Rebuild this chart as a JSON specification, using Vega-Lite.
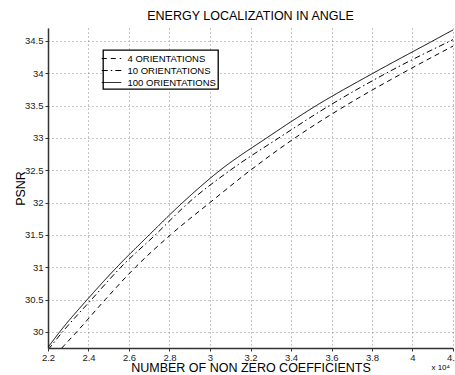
{
  "$schema": "https://vega.github.io/schema/vega-lite/v6.json",
  "width": 405,
  "height": 320,
  "autosize": {"type": "none"},
  "padding": {"left": 48, "top": 28, "right": 2, "bottom": 27},
  "background": "white",
  "title": {"text": "ENERGY LOCALIZATION IN ANGLE", "font": "Liberation Sans", "fontSize": 12.5, "fontWeight": "normal", "color": "black", "offset": 6},
  "config": {
    "view": {"stroke": null},
    "font": "Liberation Sans",
    "axis": {
      "labelFont": "Liberation Sans", "labelFontSize": 9.5, "labelColor": "#222", "labelOverlap": false, "format": "~g",
      "titleFont": "Liberation Sans", "titleFontSize": 12.5, "titleFontWeight": "normal", "titleColor": "black",
      "domainColor": "#333", "domainWidth": 1.5,
      "grid": true, "gridColor": "#888", "gridDash": [1, 3], "gridWidth": 1,
      "ticks": true, "tickSize": 3, "tickColor": "#333"
    }
  },
  "data": {
    "values": [
      {"n": 2.200, "psnr": 29.76, "s": "100 ORIENTATIONS"},
      {"n": 2.258, "psnr": 30.00, "s": "100 ORIENTATIONS"},
      {"n": 2.394, "psnr": 30.50, "s": "100 ORIENTATIONS"},
      {"n": 2.540, "psnr": 31.00, "s": "100 ORIENTATIONS"},
      {"n": 2.700, "psnr": 31.50, "s": "100 ORIENTATIONS"},
      {"n": 2.865, "psnr": 32.00, "s": "100 ORIENTATIONS"},
      {"n": 3.050, "psnr": 32.50, "s": "100 ORIENTATIONS"},
      {"n": 3.280, "psnr": 33.00, "s": "100 ORIENTATIONS"},
      {"n": 3.525, "psnr": 33.50, "s": "100 ORIENTATIONS"},
      {"n": 3.805, "psnr": 34.00, "s": "100 ORIENTATIONS"},
      {"n": 4.100, "psnr": 34.50, "s": "100 ORIENTATIONS"},
      {"n": 4.200, "psnr": 34.67, "s": "100 ORIENTATIONS"},
      {"n": 2.200, "psnr": 29.72, "s": "10 ORIENTATIONS"},
      {"n": 2.272, "psnr": 30.00, "s": "10 ORIENTATIONS"},
      {"n": 2.415, "psnr": 30.50, "s": "10 ORIENTATIONS"},
      {"n": 2.560, "psnr": 31.00, "s": "10 ORIENTATIONS"},
      {"n": 2.730, "psnr": 31.50, "s": "10 ORIENTATIONS"},
      {"n": 2.895, "psnr": 32.00, "s": "10 ORIENTATIONS"},
      {"n": 3.100, "psnr": 32.50, "s": "10 ORIENTATIONS"},
      {"n": 3.340, "psnr": 33.00, "s": "10 ORIENTATIONS"},
      {"n": 3.590, "psnr": 33.50, "s": "10 ORIENTATIONS"},
      {"n": 3.870, "psnr": 34.00, "s": "10 ORIENTATIONS"},
      {"n": 4.200, "psnr": 34.52, "s": "10 ORIENTATIONS"},
      {"n": 2.268, "psnr": 29.75, "s": "4 ORIENTATIONS"},
      {"n": 2.342, "psnr": 30.00, "s": "4 ORIENTATIONS"},
      {"n": 2.483, "psnr": 30.50, "s": "4 ORIENTATIONS"},
      {"n": 2.632, "psnr": 31.00, "s": "4 ORIENTATIONS"},
      {"n": 2.805, "psnr": 31.50, "s": "4 ORIENTATIONS"},
      {"n": 3.000, "psnr": 32.00, "s": "4 ORIENTATIONS"},
      {"n": 3.200, "psnr": 32.50, "s": "4 ORIENTATIONS"},
      {"n": 3.420, "psnr": 33.00, "s": "4 ORIENTATIONS"},
      {"n": 3.670, "psnr": 33.50, "s": "4 ORIENTATIONS"},
      {"n": 3.950, "psnr": 34.00, "s": "4 ORIENTATIONS"},
      {"n": 4.200, "psnr": 34.42, "s": "4 ORIENTATIONS"}
    ]
  },
  "layer": [
    {
      "mark": {"type": "line", "color": "black", "strokeWidth": 1, "interpolate": "monotone", "clip": true},
      "encoding": {
        "x": {"field": "n", "type": "quantitative", "scale": {"domain": [2.2, 4.2], "nice": false, "zero": false},
              "axis": {"title": "NUMBER OF NON ZERO COEFFICIENTS", "values": [2.2, 2.4, 2.6, 2.8, 3, 3.2, 3.4, 3.6, 3.8, 4, 4.2], "labelPadding": 1, "titlePadding": 0, "labelFlush": false}},
        "y": {"field": "psnr", "type": "quantitative", "scale": {"domain": [29.75, 34.7], "nice": false, "zero": false},
              "axis": {"title": "PSNR", "values": [30, 30.5, 31, 31.5, 32, 32.5, 33, 33.5, 34, 34.5], "labelPadding": 2, "titlePadding": -3, "labelFlush": false}},
        "strokeDash": {"field": "s", "type": "nominal",
          "scale": {"domain": ["4 ORIENTATIONS", "10 ORIENTATIONS", "100 ORIENTATIONS"], "range": [[5, 4], [6, 3, 1.5, 3], [1, 0]]},
          "legend": {"title": null, "orient": "none", "legendX": 55, "legendY": 22, "strokeColor": "black", "fillColor": "white",
                     "padding": 1.5, "symbolType": "M-1.5,0H1.5", "symbolSize": 169, "symbolStrokeColor": "black", "symbolStrokeWidth": 1, "symbolOffset": 0,
                     "labelFont": "Liberation Sans", "labelFontSize": 9.5, "labelColor": "black", "rowPadding": -2, "labelOffset": 9,
                     "encode": {"legend": {"update": {"strokeWidth": {"value": 1.3}}}}}}
      }
    },
    {
      "data": {"values": [{"t": "x 10⁴"}]},
      "mark": {"type": "text", "align": "right", "baseline": "middle", "dy": 20, "dx": -3, "fontSize": 8, "font": "Liberation Sans", "color": "black"},
      "encoding": {
        "x": {"datum": 4.2, "type": "quantitative",
              "axis": {"title": "NUMBER OF NON ZERO COEFFICIENTS", "values": [2.2, 2.4, 2.6, 2.8, 3, 3.2, 3.4, 3.6, 3.8, 4, 4.2], "labelPadding": 1, "titlePadding": 0, "labelFlush": false}},
        "y": {"datum": 29.75, "type": "quantitative",
              "axis": {"title": "PSNR", "values": [30, 30.5, 31, 31.5, 32, 32.5, 33, 33.5, 34, 34.5], "labelPadding": 2, "titlePadding": -3, "labelFlush": false}},
        "text": {"field": "t"}
      }
    }
  ]
}
